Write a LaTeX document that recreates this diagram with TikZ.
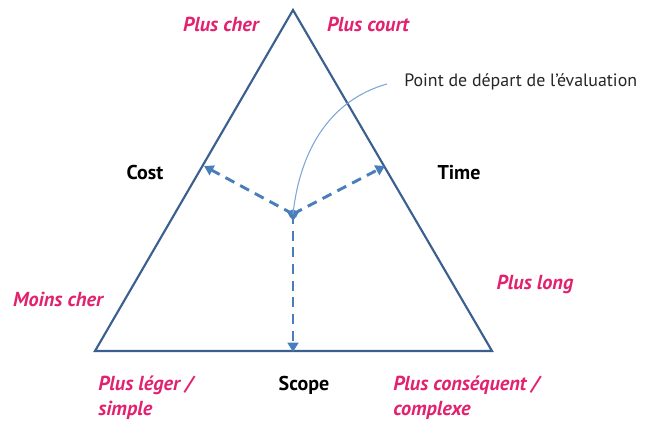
\documentclass[tikz,border=0pt]{standalone}
\usepackage{fontspec}
\setmainfont{PT Sans}
\usetikzlibrary{arrows.meta}
\definecolor{edge}{HTML}{3B5F8E}
\definecolor{flow}{HTML}{4A7EBB}
\definecolor{note}{HTML}{7EA6D8}
\definecolor{accent}{HTML}{E2216F}
\tikzset{
  px/.style={x=0.75pt,y=-0.75pt},
  side/.style={draw=edge,line width=1.6pt,line join=miter},
  flowarrow/.style={draw=flow,line width=2.2pt,dash pattern=on 7.5pt off 5pt,
    -{Triangle[length=7pt,width=8pt]}},
  trend/.style={text=accent,font=\fontsize{15.2}{18.75}\selectfont\bfseries\itshape,inner sep=0pt},
  axis/.style={text=black,font=\fontsize{15}{17}\selectfont\bfseries,inner sep=0pt},
  remark/.style={text=black!85,font=\fontsize{13.4}{16}\selectfont,inner sep=0pt,anchor=west},
}
\begin{document}
\begin{tikzpicture}[px]
\useasboundingbox (0,0) rectangle (654,424);
% triangle corners
\coordinate (top) at (293,10);
\coordinate (bl) at (95,351);
\coordinate (br) at (492,351);
\draw[side] (top) -- (bl) -- (br) -- cycle;
% starting point and the three directions
\coordinate (origin) at (293,214);
\coordinate (costend) at (204,166);
\coordinate (timeend) at (385,166);
\coordinate (scopeend) at (293,352);
\draw[flowarrow] (origin) -- (costend);
\draw[flowarrow] (origin) -- (timeend);
\draw[flowarrow] (origin) -- (scopeend);
\fill[flow] (origin) ++(-6,-2) -- ++(12,0) -- ++(-6,9) -- cycle;
\fill[flow] (origin) circle (4.5);
% note
\node[remark] (startnote) at (404,82) {Point de départ de l’évaluation};
\coordinate (noteend) at (387,84);
\draw[note,line width=0.8pt] (origin) .. controls (300,150) and (330,100) .. (noteend);
% axis names
\node[axis] (cost) at (145,173) {Cost};
\node[axis] (time) at (459,173) {Time};
\node[axis] (scope) at (304,385) {Scope};
% trends
\node[trend] (pluscher) at (221,24) {Plus cher};
\node[trend] (pluscourt) at (368,24) {Plus court};
\node[trend] (moinscher) at (58,299) {Moins cher};
\node[trend] (pluslong) at (535,284) {Plus long};
\node[trend,anchor=base west,align=left] (plusleger) at (98,415) {Plus léger /\\simple};
\node[trend,anchor=base west,align=left] (plusconsequent) at (393,415) {Plus conséquent /\\complexe};
\end{tikzpicture}
\end{document}
